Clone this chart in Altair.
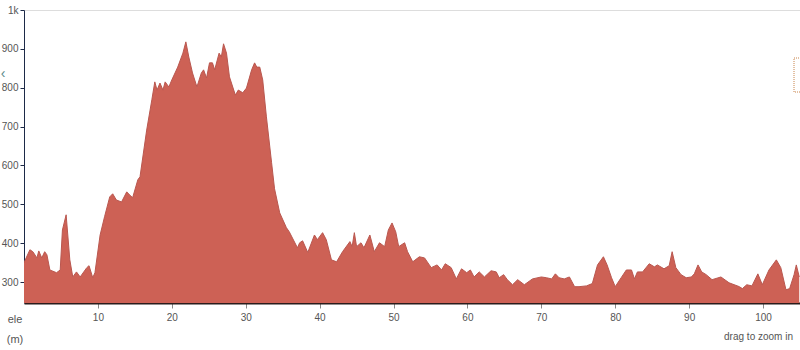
import altair as alt
import pandas as pd

dist = [0, 0.8, 1.2, 1.75, 2.0, 2.4, 2.8, 3.1, 3.5, 4.4, 4.9, 5.2, 5.7, 6.2, 6.6, 7.1, 7.6, 8.5, 8.8, 9.3,
        9.6, 10.3, 10.9, 11.6, 12.0, 12.5, 13.2, 13.9, 14.3, 14.7, 15.4, 15.7, 16.6, 17.3, 17.7, 18.0, 18.4, 18.8, 19.1, 19.6,
        20.0, 20.8, 21.5, 21.9, 22.3, 22.8, 23.4, 24.0, 24.3, 24.7, 25.1, 25.5, 25.8, 26.4, 26.7, 27.0, 27.4, 27.8, 28.6, 29.0,
        29.6, 30.1, 30.8, 31.2, 31.5, 31.9, 32.3, 32.8, 33.5, 33.9, 34.6, 35.5, 35.9, 37.0, 37.3, 37.7, 38.4, 39.3, 39.7, 40.4,
        40.9, 41.6, 42.3, 43.1, 44.1, 44.4, 44.7, 45.0, 45.6, 46.0, 46.8, 47.4, 48.1, 48.8, 49.3, 49.8, 50.3, 50.7, 51.5, 51.9,
        52.6, 53.5, 54.2, 55.1, 55.9, 56.5, 57.0, 57.8, 58.5, 59.2, 59.9, 60.4, 60.9, 61.6, 62.3, 63.2, 63.9, 64.3, 64.9, 65.4,
        66.1, 66.8, 67.7, 68.8, 70.0, 70.7, 71.4, 71.9, 72.4, 73.1, 73.8, 74.5, 75.1, 76.1, 76.9, 77.6, 78.4, 78.9, 79.5, 80.0,
        80.8, 81.5, 82.2, 82.6, 83.0, 83.7, 84.6, 85.3, 85.7, 86.6, 87.3, 87.7, 88.2, 88.9, 89.6, 90.3, 90.7, 91.2, 91.7, 92.3,
        93.1, 94.3, 95.4, 96.8, 97.2, 97.8, 98.5, 99.3, 99.9, 100.8, 101.8, 102.4, 103.1, 103.6, 104.2, 104.5, 104.9]
ele = [350, 383, 378, 362, 380, 362, 378, 370, 331, 324, 331, 434, 473, 357, 313, 326, 313, 337, 342, 311,
       324, 421, 468, 519, 527, 511, 506, 532, 524, 517, 563, 571, 691, 769, 815, 794, 812, 794, 815, 802,
       820, 853, 889, 918, 879, 838, 802, 838, 846, 825, 864, 864, 846, 889, 879, 913, 889, 828, 781, 794,
       787, 799, 846, 864, 853, 853, 820, 725, 607, 540, 478, 440, 429, 388, 401, 406, 376, 421, 409, 427,
       409, 357, 352, 378, 404, 391, 427, 391, 401, 388, 421, 378, 401, 391, 434, 452, 429, 391, 401, 378,
       352, 365, 362, 337, 344, 331, 347, 337, 308, 334, 324, 331, 313, 326, 313, 329, 326, 311, 319, 306,
       293, 306, 293, 308, 313, 311, 308, 321, 311, 308, 313, 288, 288, 290, 296, 344, 365, 344, 311, 288,
       311, 331, 331, 308, 326, 326, 347, 339, 344, 334, 342, 378, 337, 319, 311, 313, 321, 344, 326, 319,
       306, 313, 298, 288, 283, 293, 290, 321, 293, 331, 357, 337, 280, 283, 319, 344, 313]

y_ticks = [300, 400, 500, 600, 700, 800, 900, 1000]
x_ticks = [10, 20, 30, 40, 50, 60, 70, 80, 90, 100]

df = pd.DataFrame({"dist": dist, "ele": ele})
FONT = "Liberation Sans Narrow, Liberation Sans, Arial"

area = alt.Chart(df).mark_area(
    color="#CD6155", opacity=1, fillOpacity=1, clip=True, interpolate="linear",
    line={"color": "#B9574F", "strokeWidth": 1}
).encode(
    x=alt.X("dist:Q", scale=alt.Scale(domain=[0, 105], nice=False, zero=False),
            axis=alt.Axis(values=x_ticks, title=None, grid=False, domainColor="#2a1c1c", domainWidth=2,
                          tickColor="#888", tickSize=5, labelColor="#555", labelFontSize=10,
                          labelFont=FONT, labelPadding=4, labelFlush=False)),
    y=alt.Y("ele:Q", scale=alt.Scale(domain=[246, 1000], nice=False, zero=False),
            axis=alt.Axis(values=y_ticks, title=None, grid=False, domainColor="#1d2a48", domainWidth=1,
                          tickColor="#1d2a48", tickSize=4, labelColor="#555", labelFontSize=10,
                          labelFont=FONT, labelPadding=2, labelFlush=False,
                          labelExpr="datum.value == 1000 ? '1k' : datum.label")),
)

lab = pd.DataFrame({"a": [0]})
ele_t = alt.Chart(lab).mark_text(text="ele", fontSize=11, font=FONT, color="#555").encode(
    x=alt.value(-9), y=alt.value(310))
m_t = alt.Chart(lab).mark_text(text="(m)", fontSize=11, font=FONT, color="#555").encode(
    x=alt.value(-9), y=alt.value(330))
drag = alt.Chart(lab).mark_text(text="drag to zoom in", fontSize=10, font=FONT, color="#555",
                                align="right").encode(x=alt.value(769), y=alt.value(327))
nav_l = alt.Chart(lab).mark_text(text="‹", fontSize=14, font=FONT, color="#5a8a8a").encode(
    x=alt.value(-21), y=alt.value(64))
nav_r = alt.Chart(lab).mark_rect(fill="white", stroke="#c8834a", strokeDash=[1, 1], strokeWidth=1).encode(
    x=alt.value(770), x2=alt.value(780), y=alt.value(48), y2=alt.value(82))

chart = alt.layer(area, ele_t, m_t, drag, nav_l, nav_r).properties(
    width=776, height=293, autosize="none",
    padding={"left": 24, "top": 10, "right": 0, "bottom": 47}
).configure_view(stroke=None).configure(background="white")

chart.save("out.html", embed_options={"renderer": "svg", "actions": False})
